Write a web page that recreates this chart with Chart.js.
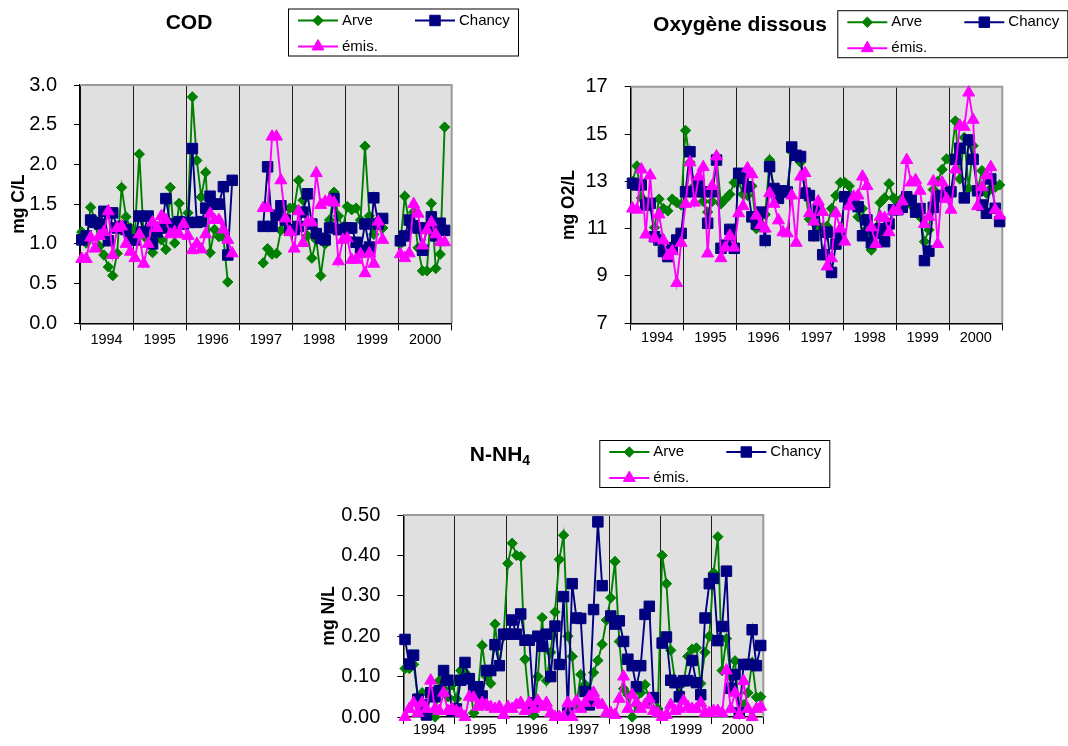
<!DOCTYPE html>
<html>
<head>
<meta charset="utf-8">
<script src="https://cdn.jsdelivr.net/npm/chart.js@4/dist/chart.umd.min.js"></script>
<style>
  body { margin:0; background:#fff; width:1068px; height:746px; position:relative; overflow:hidden; }
  canvas { position:absolute; }
</style>
</head>
<body>
<canvas id="c-cod" style="left:0;top:0" width="534" height="360"></canvas>
<canvas id="c-o2"  style="left:534px;top:0" width="534" height="360"></canvas>
<canvas id="c-nh4" style="left:290px;top:420px" width="560" height="326"></canvas>
<script>
// Arve / Chancy / émis — séries mensuelles 1994-2000 (une ligne par année)
const years = ['1994', '1995', '1996', '1997', '1998', '1999', '2000'];

const codArve = [
  1.15, 1.01, 1.46, 1.30, 0.97, 0.86, 0.71, 0.60, 0.88, 1.71, 1.34, 1.20,
  1.15, 2.13, 1.10, 1.05, 0.89, 1.10, 1.05, 0.93, 1.71, 1.01, 1.51, 1.25,
  1.39, 2.85, 2.05, 1.59, 1.90, 0.89, 1.18, 1.09, 1.08, 0.52, null, null,
  null, null, null, null, null, 0.76, 0.94, 0.87, 0.88, 1.17, 1.30, 1.45,
  1.45, 1.80, 1.55, 1.10, 0.82, 1.05, 0.60, 1.00, 1.30, 1.65, 1.35, 1.20,
  1.47, 1.43, 1.45, 1.30, 2.23, 1.35, 1.12, 1.30, 1.20, null, null, null,
  1.00, 1.60, 1.25, 1.40, 0.95, 0.66, 0.66, 1.51, 0.69, 0.87, 2.47, null
];
const codChancy = [
  1.05, 1.10, 1.30, 1.27, 1.25, 1.41, 1.04, 1.39, 1.20, 1.22, 1.18, 1.05,
  1.05, 1.35, 1.15, 1.35, 1.00, 1.15, 1.20, 1.57, 1.25, 1.22, 1.28, 1.25,
  1.27, 2.20, 1.27, 1.28, 1.45, 1.60, 1.50, 1.50, 1.72, 0.86, 1.80, null,
  null, null, null, null, null, 1.22, 1.97, 1.22, 1.36, 1.48, 1.30, 1.17,
  1.18, 1.22, 1.40, 1.63, 1.25, 1.13, 1.07, 1.05, 1.20, 1.57, 1.18, 1.18,
  1.20, 1.20, 1.02, 0.92, 1.25, 0.96, 1.58, 1.25, 1.32, null, null, null,
  1.04, 1.10, 1.30, 1.23, 1.20, 0.92, 1.20, 1.34, 1.10, 1.26, 1.17, null
];
const codEmis = [
  0.81, 0.81, 1.08, 0.94, 1.10, 1.15, 1.41, 0.86, 1.20, 1.22, 1.00, 0.90,
  0.82, 1.12, 0.75, 1.00, 1.27, 1.20, 1.35, 1.30, 1.12, 1.15, 1.12, 1.25,
  1.10, 0.92, 1.00, 0.93, 1.12, 1.38, 1.30, 1.30, 1.18, 1.05, 0.88, null,
  null, null, null, null, null, 1.45, 1.45, 2.35, 2.35, 1.80, 1.32, 1.15,
  0.94, 1.41, 1.01, 1.27, 1.27, 1.89, 1.49, 1.53, 1.55, 1.52, 0.78, 1.05,
  1.07, 0.80, 0.80, 0.87, 0.63, 0.88, 0.75, 1.28, 1.05, null, null, null,
  0.87, 0.82, 0.88, 1.50, 1.38, 0.98, 1.17, 1.27, 1.12, 1.02, 1.02, null
];

const o2Arve = [
  13.0, 13.65, 12.3, 12.1, 11.95, 11.05, 12.25, 11.85, 11.75, 12.25, 12.1, 12.0,
  15.15, 13.8, 12.8, 12.6, 12.15, 11.7, 12.15, 14.05, 12.05, 12.25, 12.45, 12.95,
  13.0, 12.45, 12.4, 12.8, 11.0, 11.2, 11.6, 13.9, 12.65, 12.4, 12.5, 12.6,
  14.25, 14.05, 13.8, 12.6, 11.4, 11.25, 11.1, 11.05, 11.1, 11.85, 12.4, 12.95,
  12.95, 12.8, 12.3, 11.5, 11.85, 11.0, 10.1, 11.0, 12.1, 12.3, 12.9, 12.3,
  12.1, 12.3, 12.3, 12.0, 11.8, 11.5, 10.45, 10.95, 12.65, 13.0, 13.5, 13.95,
  13.9, 15.55, 13.1, 14.85, 12.7, 14.5, 12.6, 13.45, 12.5, 12.7, 12.75, 12.85
];
const o2Chancy = [
  12.92, 12.85, 12.85, 12.0, 12.07, 10.66, 10.52, 10.03, 9.82, 10.2, 10.52, 10.8,
  12.56, 14.25, 12.56, 12.85, 12.56, 11.23, 12.56, 13.9, 10.17, 10.3, 10.97, 10.17,
  13.34, 13.13, 12.77, 11.5, 11.2, 11.7, 10.5, 13.62, 12.7, 12.28, 12.6, 12.55,
  14.45, 14.1, 14.05, 12.5, 12.4, 10.7, 11.8, 9.9, 10.85, 9.15, 10.35, 10.75,
  12.35, 12.25, 12.05, 11.93, 10.7, 11.37, 10.4, 10.8, 11.0, 10.45, 11.2, 11.8,
  11.8, 11.9, 12.35, 12.2, 11.7, 11.85, 9.65, 10.05, 11.9, 12.35, 12.4, 12.5,
  12.56, 13.93, 14.4, 12.3, 14.75, 13.93, 12.6, 12.0, 11.65, 13.1, 11.86, 11.3
];
const o2Emis = [
  11.85, 11.8, 13.5, 10.75, 13.25, 10.6, 11.6, 10.5, 9.85, 10.05, 8.7, 10.4,
  12.05, 13.8, 12.1, 13.2, 13.6, 9.95, 12.8, 14.05, 9.75, 10.2, 10.7, 10.2,
  11.65, 11.95, 13.55, 13.3, 11.55, 11.15, 11.0, 12.5, 12.05, 11.35, 10.85, 10.8,
  12.4, 10.4, 13.2, 13.35, 11.65, 11.3, 12.15, 11.7, 9.4, 9.75, 11.65, 11.0,
  10.45, 11.95, 12.35, 12.4, 13.2, 12.8, 11.05, 10.35, 11.5, 11.45, 10.85, 11.75,
  11.75, 12.15, 13.9, 12.95, 13.05, 12.6, 11.2, 11.5, 13.0, 10.35, 12.95, 12.25,
  11.8, 13.5, 15.35, 15.3, 16.75, 15.6, 11.95, 12.75, 13.25, 13.6, 11.8, 11.55
];

const nh4Arve = [
  0.12, 0.12, 0.13, 0.05, 0.06, 0.01, 0.005, 0.0, 0.09, 0.07, 0.05, 0.08,
  0.045, 0.115, 0.11, 0.09, 0.01, 0.06, 0.177, 0.10, 0.083, 0.23, 0.131, 0.20,
  0.38, 0.43, 0.40, 0.397, 0.143, 0.03, 0.005, 0.10, 0.246, 0.09, 0.16, 0.26,
  0.39, 0.45, 0.20, 0.15, 0.03, 0.105, 0.08, 0.065, 0.11, 0.14, 0.18, 0.24,
  0.295, 0.385, 0.187, 0.07, 0.055, 0.0, 0.03, 0.06, 0.08, 0.04, 0.05, 0.02,
  0.40, 0.33, 0.165, 0.09, 0.06, 0.085, 0.15, 0.168, 0.171, 0.083, 0.16, 0.20,
  0.357, 0.446, 0.115, 0.194, 0.10, 0.139, 0.008, 0.03, 0.06, 0.135, 0.049, 0.05
];
const nh4Chancy = [
  0.192, 0.131, 0.153, 0.044, 0.03, 0.005, 0.06, 0.05, 0.065, 0.115, 0.091, 0.015,
  0.02, 0.091, 0.135, 0.095, 0.07, 0.075, 0.052, 0.115, 0.115, 0.179, 0.127, 0.205,
  0.205, 0.24, 0.205, 0.255, 0.19, 0.19, 0.035, 0.20, 0.175, 0.205, 0.10, 0.225,
  0.13, 0.298, 0.01, 0.33, 0.245, 0.244, 0.063, 0.03, 0.266, 0.483, 0.325, null,
  0.25, 0.23, 0.238, 0.187, 0.143, 0.127, 0.075, 0.127, 0.254, 0.274, 0.048, null,
  0.183, 0.198, 0.091, 0.085, 0.05, 0.09, 0.09, 0.14, 0.085, 0.055, 0.245, 0.33,
  0.343, 0.189, 0.224, 0.361, 0.071, 0.105, 0.01, 0.13, 0.13, 0.216, 0.127, 0.177
];
const nh4Emis = [
  0.0, 0.02, 0.035, 0.01, 0.035, 0.02, 0.09, 0.02, 0.015, 0.06, 0.015, 0.02,
  0.015, 0.01, 0.0, 0.05, 0.048, 0.025, 0.035, 0.03, 0.025, 0.02, 0.025, 0.005,
  0.025, 0.02, 0.03, 0.035, 0.015, 0.035, 0.02, 0.04, 0.025, 0.035, 0.01, 0.0,
  0.0, 0.0, 0.035, 0.0, 0.04, 0.02, 0.035, 0.05, 0.06, 0.035, 0.03, 0.01,
  0.01, 0.005, 0.045, 0.1, 0.02, 0.055, 0.035, 0.02, 0.03, 0.045, 0.015, 0.01,
  0.0, 0.005, 0.03, 0.015, 0.02, 0.04, 0.025, 0.02, 0.02, 0.035, 0.01, 0.01,
  0.015, 0.015, 0.01, 0.115, 0.02, 0.06, 0.005, 0.089, 0.02, 0.0, 0.02, 0.025
];

(function () {
  const FONT = "'Liberation Sans', Arial, sans-serif";
  Chart.defaults.font.family = FONT;
  Chart.defaults.color = '#000';

  // fond gris de la zone de tracé + cadre gris en haut et à droite
  const plotFrame = {
    id: 'plotFrame',
    beforeDraw(chart) {
      const { ctx, chartArea: a } = chart;
      ctx.save();
      ctx.fillStyle = '#e0e0e0';
      ctx.fillRect(a.left, a.top, a.right - a.left, a.bottom - a.top);
      ctx.restore();
    },
    beforeDatasetsDraw(chart) {
      const { ctx, chartArea: a } = chart;
      ctx.save();
      ctx.strokeStyle = '#9a9a9a';
      ctx.lineWidth = 2;
      ctx.beginPath();
      ctx.moveTo(a.left, a.top);
      ctx.lineTo(a.right, a.top);
      ctx.lineTo(a.right, a.bottom);
      ctx.stroke();
      ctx.restore();
    }
  };

  // titre (avec indice éventuel) + légende encadrée façon Excel
  const headBox = {
    id: 'headBox',
    afterDraw(chart, args, o) {
      const ctx = chart.ctx;
      ctx.save();
      ctx.fillStyle = '#000';
      ctx.textBaseline = 'middle';
      ctx.textAlign = 'left';
      ctx.font = `bold 21px ${FONT}`;
      const w1 = ctx.measureText(o.title).width;
      let w2 = 0;
      if (o.sub) { ctx.font = `bold 14px ${FONT}`; w2 = ctx.measureText(o.sub).width; }
      const tx = o.titleX - (w1 + w2) / 2;
      ctx.font = `bold 21px ${FONT}`;
      ctx.fillText(o.title, tx, o.titleY);
      if (o.sub) { ctx.font = `bold 14px ${FONT}`; ctx.fillText(o.sub, tx + w1, o.titleY + 6); }

      const b = o.box;
      ctx.strokeStyle = '#000';
      ctx.lineWidth = 1;
      ctx.strokeRect(b.x + 0.5, b.y + 0.5, 230, 47);
      const slots = [[10, 12], [127, 12], [10, 38]];
      chart.data.datasets.forEach((ds, i) => {
        const lx = b.x + slots[i][0], ly = b.y + slots[i][1];
        ctx.strokeStyle = ds.borderColor;
        ctx.lineWidth = ds.borderWidth;
        ctx.beginPath(); ctx.moveTo(lx, ly); ctx.lineTo(lx + 40, ly); ctx.stroke();
        ctx.fillStyle = ds.backgroundColor;
        ctx.lineWidth = 1;
        Chart.helpers.drawPoint(ctx, { pointStyle: ds.pointStyle, radius: ds.pointRadius, borderWidth: 1, rotation: 0 }, lx + 20, ly);
        ctx.fillStyle = '#000';
        ctx.font = `15px ${FONT}`;
        ctx.fillText(ds.label, lx + 44, ly);
      });
      ctx.restore();
    }
  };

  function serie(label, values, color, style, radius, order) {
    return {
      label, order,
      data: values.map((y, i) => ({ x: (i + 0.4) / 12, y })),
      borderColor: color, backgroundColor: color,
      borderWidth: 1.9, pointStyle: style, pointRadius: radius, pointHoverRadius: radius,
      pointBorderWidth: 1, tension: 0, spanGaps: 0.26, clip: false
    };
  }

  function graphe(id, cfg) {
    new Chart(document.getElementById(id), {
      type: 'line',
      data: {
        datasets: [
          serie('Arve', cfg.arve, '#008000', 'rectRot', 5.2, 2),
          serie('Chancy', cfg.chancy, '#000080', 'rect', 7.4, 1),
          serie('émis.', cfg.emis, '#ff00ff', 'triangle', 6.9, 0)
        ]
      },
      options: {
        responsive: false, animation: false, events: [],
        layout: { padding: cfg.pad },
        plugins: { legend: { display: false }, tooltip: { enabled: false }, headBox: cfg.head },
        scales: {
          x: {
            type: 'linear', min: 0, max: 7,
            ticks: { stepSize: 1, autoSkip: false, maxRotation: 0, padding: cfg.xPad,
                     labelOffset: cfg.yearW / 2, font: { size: 14.5 },
                     callback: v => years[v] || '' },
            grid: { color: c => c.index === 7 ? 'rgba(0,0,0,0)' : '#1e1e1e', tickColor: '#000', tickLength: 7, lineWidth: 1 },
            border: { color: '#000', width: 1.5 },
            afterFit: s => { s.height = cfg.xH; }
          },
          y: {
            min: cfg.yMin, max: cfg.yMax,
            ticks: { stepSize: cfg.yStep, padding: 17, font: { size: 20 },
                     callback: v => v.toFixed(cfg.dec) },
            grid: { drawOnChartArea: false, tickLength: 6, color: '#000' },
            border: { color: '#000', width: 1.5 },
            title: { display: true, text: cfg.yTitle, font: { size: 17.5, weight: 'bold' }, padding: { top: cfg.yTitlePad, bottom: 0 } },
            afterFit: s => { s.width = cfg.left; }
          }
        }
      },
      plugins: [plotFrame, headBox]
    });
  }

  graphe('c-cod', {
    arve: codArve, chancy: codChancy, emis: codEmis,
    yMin: 0, yMax: 3, yStep: 0.5, dec: 1, yTitle: 'mg C/L', yTitlePad: 9,
    left: 80, pad: { left: 0, top: 85, right: 82.3, bottom: 11.7 }, xH: 25, xPad: 1, yearW: 53.1,
    head: { title: 'COD', titleX: 189, titleY: 23, box: { x: 288, y: 8.5 } }
  });

  graphe('c-o2', {
    arve: o2Arve, chancy: o2Chancy, emis: o2Emis,
    yMin: 7, yMax: 17, yStep: 2, dec: 0, yTitle: 'mg O2/L', yTitlePad: 24.5,
    left: 96.7, pad: { left: 0, top: 86.7, right: 65.7, bottom: 11.7 }, xH: 25, xPad: -1, yearW: 53.1,
    head: { title: 'Oxygène dissous', titleX: 206, titleY: 25.5, box: { x: 303.3, y: 10.2 } }
  });

  graphe('c-nh4', {
    arve: nh4Arve, chancy: nh4Chancy, emis: nh4Emis,
    yMin: 0, yMax: 0.5, yStep: 0.1, dec: 2, yTitle: 'mg N/L', yTitlePad: 29,
    left: 113.3, pad: { left: 0, top: 95, right: 86.7, bottom: 0 }, xH: 21, xPad: -3, yearW: 51.43,
    head: { title: 'N-NH', sub: '4', titleX: 210, titleY: 35, box: { x: 309.3, y: 20 } }
  });
})();
</script>
</body>
</html>
